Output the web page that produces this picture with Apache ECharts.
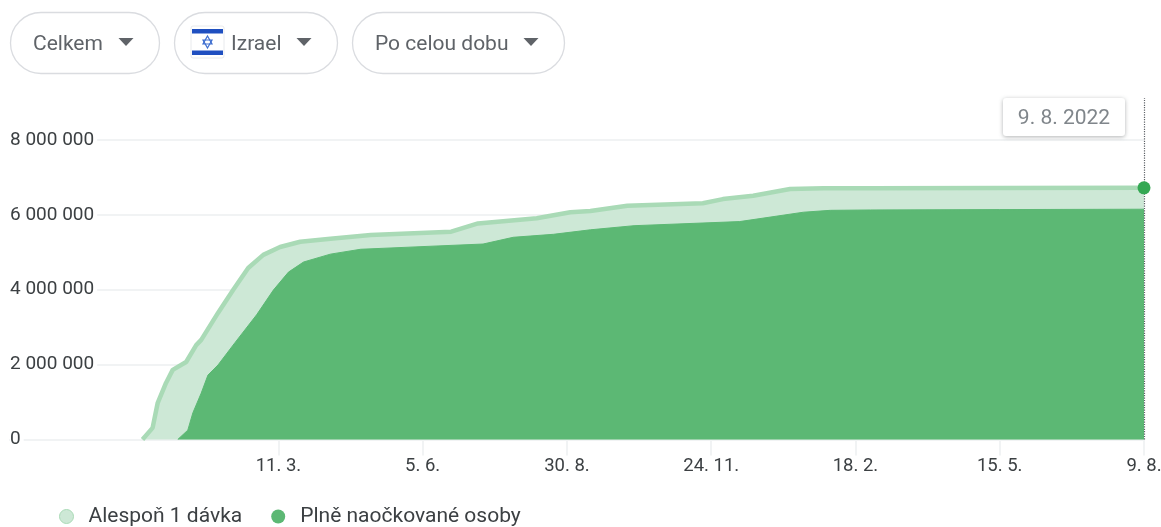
<!DOCTYPE html>
<html>
<head>
<meta charset="utf-8">
<style>html,body{margin:0;padding:0;background:#fff}#c{width:1161px;height:527px}</style>
<script src="https://cdn.jsdelivr.net/npm/echarts@6/dist/echarts.min.js"></script>
</head>
<body>
<div id="c"></div>
<script>
const seriesNames = ['Alespoň 1 dávka', 'Plně naočkované osoby'];
const atLeastOneDates = ['2020-12-20','2020-12-26','2020-12-29','2021-01-03','2021-01-07','2021-01-15','2021-01-21','2021-01-24','2021-02-03','2021-02-12','2021-02-21','2021-03-02','2021-03-12','2021-03-24','2021-04-11','2021-05-05','2021-06-22','2021-07-08','2021-08-12','2021-09-01','2021-09-13','2021-10-05','2021-11-19','2021-12-01','2021-12-19','2022-01-10','2022-01-30','2022-02-27','2022-05-15','2022-08-09'];
const atLeastOneValues = [0,310000,970000,1510000,1860000,2070000,2520000,2660000,3380000,3990000,4580000,4930000,5140000,5280000,5360000,5460000,5550000,5770000,5910000,6070000,6100000,6240000,6310000,6420000,6510000,6690000,6710000,6710000,6715000,6720000];
const fullyDates = ['2021-01-10','2021-01-16','2021-01-19','2021-01-24','2021-01-28','2021-02-03','2021-02-13','2021-02-26','2021-03-08','2021-03-17','2021-03-26','2021-04-11','2021-04-29','2021-06-04','2021-07-11','2021-07-29','2021-08-22','2021-09-13','2021-10-09','2021-12-11','2022-01-18','2022-02-03','2022-02-27','2022-05-15','2022-08-09'];
const fullyValues = [0,250000,710000,1240000,1720000,1990000,2580000,3330000,3990000,4470000,4740000,4950000,5080000,5150000,5220000,5400000,5480000,5600000,5710000,5820000,6070000,6120000,6130000,6140000,6150000];
const tickDates = ['2021-03-11','2021-06-05','2021-08-30','2021-11-24','2022-02-18','2022-05-15','2022-08-09'];
const yTicks = [0,2000000,4000000,6000000,8000000];
const filterLabels = ['Celkem','Izrael','Po celou dobu'];
const selectedDate = '9. 8. 2022';
const xMin = '2020-10-02';

const FONT = 'Roboto, "Liberation Sans", sans-serif';
const ts = s => +echarts.number.parseDate(s);
const zip = (a, b) => a.map((d, i) => [ts(d), b[i]]);
const lastDate = tickDates[tickDates.length-1];

function pill(x, w) {
  return {type:'rect', shape:{x:x+0.5, y:12.5, width:w, height:61, r:30.5},
    style:{fill:'#fff', stroke:'#dadce0', lineWidth:1.3}};
}
function label(t, x) {
  return {type:'text', style:{text:t, x:x, y:44.5, font:'21px '+FONT, fill:'#5f6368', textVerticalAlign:'middle', textBaseline:'middle'}};
}
function caret(cx) {
  return {type:'polygon', shape:{points:[[cx-7.5,38],[cx+7.5,38],[cx,46]]}, style:{fill:'#5f6368'}};
}

const chart = echarts.init(document.getElementById('c'), null, {renderer:'canvas'});
chart.setOption({
  animation:false,
  textStyle:{fontFamily:FONT},
  grid:{left:10, right:17, top:98, bottom:87.5, outerBoundsMode:'none'},
  xAxis:{
    type:'value', min:ts(xMin), max:ts(lastDate), scale:true,
    axisLine:{show:true, onZero:false, lineStyle:{color:'#f1f3f4', width:2}},
    axisTick:{show:true, customValues:tickDates.map(ts), length:16, lineStyle:{color:'#f1f3f4', width:2}},
    axisLabel:{show:true, customValues:tickDates.map(ts), margin:17, fontSize:18.5, color:'#3c4043', fontFamily:FONT,
      formatter:v=>{const d=new Date(v);return d.getDate()+'. '+(d.getMonth()+1)+'.';}},
    splitLine:{show:false}
  },
  yAxis:{
    type:'value', min:0, max:9120000, interval:2000000,
    axisLine:{show:false}, axisTick:{show:false},
    splitLine:{show:true, showMaxLine:false, lineStyle:{color:'#f1f3f4', width:2}},
    axisLabel:{inside:true, margin:0, fontSize:19, color:'#3c4043', fontFamily:FONT, backgroundColor:'#fff',
      lineHeight:20, padding:[8,3,0,0],
      showMaxLabel:false,
      formatter:v=>yTicks.includes(v)?String(v).replace(/\B(?=(\d{3})+$)/g,' '):''}
  },
  legend:{
    left:54, top:501, itemWidth:14, itemHeight:14, itemGap:29, selectedMode:false,
    textStyle:{fontSize:21, color:'#3c4043', fontFamily:FONT, padding:[0,0,0,10]},
    data:[
      {name:seriesNames[0], icon:'circle', itemStyle:{color:'#cde8d6', borderColor:'#a9dab6', borderWidth:1}},
      {name:seriesNames[1], icon:'circle', itemStyle:{color:'#5cb874'}}
    ]
  },
  series:[
    {name:seriesNames[0], type:'line', showSymbol:false, symbol:'none', silent:true, z:2,
      data:zip(atLeastOneDates, atLeastOneValues),
      lineStyle:{color:'#a9dab6', width:4.5}, itemStyle:{color:'#a9dab6'},
      areaStyle:{color:'#cde8d6', opacity:1},
      markPoint:{silent:true, symbol:'circle', symbolSize:13, z:10,
        itemStyle:{color:'#34a853', borderWidth:0}, label:{show:false},
        data:[{coord:[ts(atLeastOneDates[atLeastOneDates.length-1]), atLeastOneValues[atLeastOneValues.length-1]]}]}
    },
    {name:seriesNames[1], type:'line', showSymbol:false, symbol:'none', silent:true, z:3,
      data:zip(fullyDates, fullyValues),
      lineStyle:{color:'#5cb874', width:1}, itemStyle:{color:'#5cb874'},
      areaStyle:{color:'#5cb874', opacity:1},
      markLine:{silent:true, symbol:'none', z:9, label:{show:false},
        lineStyle:{color:'#5f6368', type:'dotted', width:1.2},
        data:[{xAxis:ts(lastDate)}]}
    }
  ],
  graphic:{elements:[
    pill(10,149), label(filterLabels[0],33), caret(126),
    pill(174,163),
    {type:'rect', shape:{x:191,y:26,width:33,height:32,r:2}, style:{fill:'#fff', stroke:'#e8eaed', lineWidth:1}},
    {type:'rect', shape:{x:192,y:29,width:31,height:4.5}, style:{fill:'#1f4fc0'}},
    {type:'rect', shape:{x:192,y:50.5,width:31,height:4.5}, style:{fill:'#1f4fc0'}},
    {type:'polygon', shape:{points:[[207.5,36],[212,44],[203,44]]}, style:{fill:'none', stroke:'#3f6fd0', lineWidth:1.2}},
    {type:'polygon', shape:{points:[[207.5,48],[212,40],[203,40]]}, style:{fill:'none', stroke:'#3f6fd0', lineWidth:1.2}},
    label(filterLabels[1],231), caret(304),
    pill(352,212), label(filterLabels[2],375), caret(531),
    {type:'rect', z:20, shape:{x:1003,y:98,width:122,height:38,r:3},
      style:{fill:'#fff', shadowBlur:4, shadowOffsetY:1, shadowColor:'rgba(60,64,67,0.4)'}},
    {type:'text', z:21, style:{text:selectedDate, x:1064, y:118.5, font:'21px '+FONT, fill:'#80868b', textAlign:'center', textVerticalAlign:'middle', textBaseline:'middle'}}
  ]}
});
</script>
</body>
</html>
